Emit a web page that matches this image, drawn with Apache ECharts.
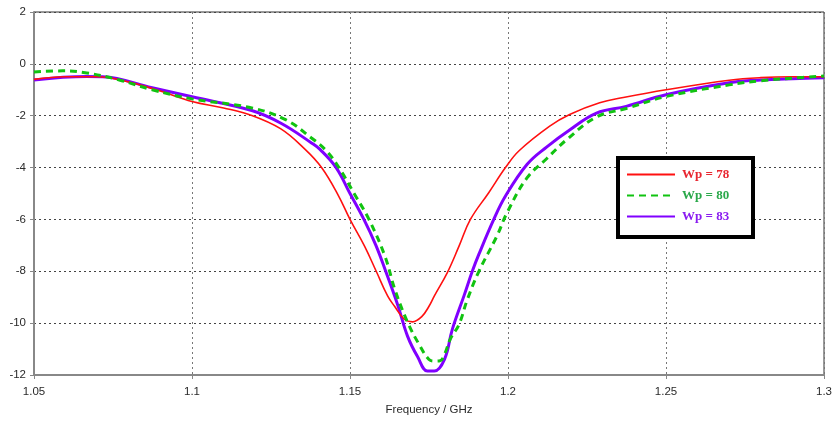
<!DOCTYPE html>
<html>
<head>
<meta charset="utf-8">
<script src="https://cdn.jsdelivr.net/npm/echarts@6/dist/echarts.min.js"></script>
<style>html,body{margin:0;padding:0;background:#fff}#c{width:835px;height:421px}</style>
</head>
<body>
<div id="c"></div>
<script>
// Frequency (GHz) / value pairs
const freq78 = [1.05,1.06,1.07,1.08,1.09,1.10,1.11,1.118,1.128,1.1358,1.141,1.1462,1.15,1.1546,1.1583,1.1619,1.1641,1.1672,1.1698,1.1727,1.175,1.1767,1.1808,1.1845,1.1881,1.1939,1.1992,1.2035,1.2132,1.2195,1.229,1.2365,1.25,1.27,1.28,1.29,1.30];
const val78  = [-0.6,-0.5,-0.5,-0.7,-1.05,-1.45,-1.7,-1.95,-2.5,-3.3,-4.0,-5.05,-6.0,-7.03,-8.0,-8.95,-9.35,-9.85,-9.95,-9.75,-9.35,-8.95,-8.05,-7.03,-6.0,-4.97,-4.0,-3.35,-2.4,-1.95,-1.5,-1.3,-1.0,-0.63,-0.53,-0.5,-0.5];

const freq80 = [1.05,1.0591,1.0667,1.077,1.0874,1.10,1.1189,1.1296,1.1377,1.1425,1.1465,1.1513,1.156,1.161,1.1642,1.1682,1.172,1.175,1.1767,1.1785,1.1799,1.1818,1.1845,1.1871,1.1908,1.1965,1.1997,1.206,1.2123,1.2186,1.228,1.2374,1.25,1.27,1.28,1.29,1.30];
const val80  = [-0.31,-0.27,-0.35,-0.62,-1.0,-1.35,-1.7,-2.15,-2.85,-3.35,-4.0,-5.0,-6.0,-7.4,-8.7,-9.96,-10.85,-11.4,-11.46,-11.45,-11.2,-10.6,-10.05,-9.1,-8.0,-6.64,-5.74,-4.4,-3.65,-2.92,-2.05,-1.72,-1.26,-0.81,-0.65,-0.55,-0.47];

const freq83 = [1.05,1.0667,1.0717,1.0874,1.10,1.1189,1.1283,1.1377,1.1405,1.1456,1.15,1.1544,1.1582,1.1613,1.1651,1.1682,1.1714,1.1745,1.1767,1.1799,1.1824,1.1862,1.1887,1.1908,1.1955,1.1992,1.206,1.2123,1.2195,1.228,1.2374,1.25,1.27,1.28,1.29,1.30];
const val83  = [-0.62,-0.49,-0.5,-0.92,-1.27,-1.8,-2.3,-3.04,-3.3,-4.0,-5.0,-6.0,-7.0,-8.0,-9.3,-10.5,-11.3,-11.85,-11.85,-11.4,-10.23,-8.9,-8.0,-7.34,-6.0,-5.1,-3.88,-3.2,-2.55,-1.9,-1.64,-1.19,-0.73,-0.62,-0.57,-0.54];

const seriesNames = ['Wp = 78','Wp = 80','Wp = 83'];
const xTicks = [1.05,1.1,1.15,1.2,1.25,1.3];
const yTicks = [2,0,-2,-4,-6,-8,-10,-12];

const zip = (xs, ys) => xs.map((x, i) => [x, ys[i]]);

const chart = echarts.init(document.getElementById('c'), null, {renderer: 'canvas'});
const axisFont = {fontFamily: 'Liberation Sans', fontSize: 11.5, color: '#2a2a2a'};
chart.setOption({
  animation: false,
  backgroundColor: '#fff',
  grid: {left: 34, right: 6, top: 12, bottom: 45, show: true, borderColor: '#333', borderWidth: 1},
  xAxis: {
    type: 'value', min: 1.05, max: 1.3, interval: 0.05,
    name: 'Frequency / GHz', nameLocation: 'middle', nameGap: 29,
    nameTextStyle: {fontFamily: 'Liberation Sans', fontSize: 11.5, color: '#2a2a2a'},
    axisLine: {onZero: false, lineStyle: {color: '#888', width: 2}},
    axisTick: {show: true, inside: false, length: 4, lineStyle: {color: '#888'}},
    axisLabel: Object.assign({margin: 11, formatter: v => String(parseFloat(v.toFixed(2)))}, axisFont),
    splitLine: {show: true, lineStyle: {color: '#777', type: [2, 3], width: 1}}
  },
  yAxis: {
    type: 'value', min: -12, max: 2, interval: 2,
    axisLine: {show: true, onZero: false, lineStyle: {color: '#888', width: 2}},
    axisTick: {show: true, length: 4, lineStyle: {color: '#888'}},
    axisLabel: Object.assign({margin: 8}, axisFont),
    splitLine: {show: true, lineStyle: {color: '#444', type: [2, 3], width: 1}}
  },
  legend: {
    orient: 'vertical', left: 626, top: 168, itemWidth: 48, itemHeight: 14, itemGap: 8,
    padding: 0, z: 110,
    itemStyle: {opacity: 0},
    data: [
      {name: seriesNames[0], textStyle: {color: '#e82630'}},
      {name: seriesNames[1], textStyle: {color: '#2aa84a'}},
      {name: seriesNames[2], textStyle: {color: '#8a1cf0'}}
    ],
    textStyle: {fontFamily: 'Liberation Serif', fontWeight: 'bold', fontSize: 13, padding: [0, 0, 0, 2]}
  },
  graphic: [{
    type: 'rect', left: 616, top: 156, z: 100, silent: true,
    shape: {width: 135, height: 79},
    style: {fill: '#fff', stroke: '#000', lineWidth: 4}
  }],
  series: [
    {name: seriesNames[0], type: 'line', data: zip(freq78, val78), showSymbol: false, symbol: 'none', smooth: 0.4,
     lineStyle: {color: '#ff1010', width: 1.6}, itemStyle: {color: '#ff1010'}, z: 3},
    {name: seriesNames[1], type: 'line', data: zip(freq80, val80), showSymbol: false, symbol: 'none', smooth: 0.4,
     lineStyle: {color: '#11c311', width: 3, type: [7, 5]}, itemStyle: {color: '#11c311'}, z: 4},
    {name: seriesNames[2], type: 'line', data: zip(freq83, val83), showSymbol: false, symbol: 'none', smooth: 0.4,
     lineStyle: {color: '#8000ff', width: 3}, itemStyle: {color: '#8000ff'}, z: 2}
  ]
});
</script>
</body>
</html>
